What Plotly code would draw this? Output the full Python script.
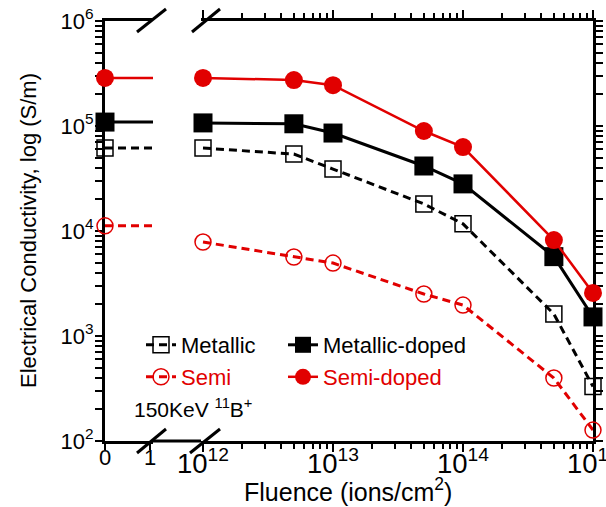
import plotly.graph_objects as go

# ---------------- data ----------------
fluence = [1e12, 5e12, 1e13, 5e13, 1e14, 5e14, 1e15]
zero_tick_vals = [0, 1]
zero_tick_text = ["0", "1"]

metallic_0 = 6.17e4
metallic = [6.17e4, 5.4e4, 3.89e4, 1.81e4, 1.17e4, 1.62e3, 330]

metallic_doped_0 = 1.09e5
metallic_doped = [1.07e5, 1.05e5, 8.57e4, 4.16e4, 2.81e4, 5.7e3, 1.52e3]

semi_0 = 1.12e4
semi = [7.85e3, 5.65e3, 4.95e3, 2.51e3, 1.97e3, 398, 127]

semi_doped_0 = 2.87e5
semi_doped = [2.87e5, 2.74e5, 2.45e5, 8.96e4, 6.3e4, 8.2e3, 2.57e3]

series_names = ["Metallic", "Metallic-doped", "Semi", "Semi-doped"]

# y ticks: decades (labelled) and 2..9 x each decade (unlabelled)
y_decades = [2, 3, 4, 5, 6]
y_tick_vals = []
y_tick_text = []
for e in y_decades:
    for m in range(1, 10):
        if e == y_decades[-1] and m > 1:
            break
        y_tick_vals.append(m * 10 ** e)
        y_tick_text.append(f"10<sup>{e}</sup>" if m == 1 else "")
x_minor = [m * 10 ** e for e in range(11, 15) for m in range(2, 10)]

# ---------------- style / layout ----------------
BLACK = "#000000"
RED = "#e10000"
FONT = "Liberation Sans, Arial, sans-serif"

W, H = 606, 507
L, R, T, B = 105, 13, 21, 66
PW = W - L - R
PH = H - T - B


def px(xp):
    return (xp - L) / PW


def py(yp):
    return (H - B - yp) / PH


LEFT_END = (153 - 105) / 45.0          # left (linear) segment range end
D1 = px(153)
D2 = px(201)
RIGHT_START = 12 - (203 - 201) / 130.0
Y_RANGE = [2, 6]
X2_RANGE = [RIGHT_START, 15]

styles = [
    dict(color=BLACK, dash="8px,5px", symbol="square-open", size=16, lw=3, mlw=1.5, legend="legend", lwid=97),
    dict(color=BLACK, dash="solid", symbol="square", size=19, lw=3, mlw=0, legend="legend", lwid=180),
    dict(color=RED, dash="8px,5px", symbol="circle-open", size=16, lw=3, mlw=1.5, legend="legend2", lwid=97),
    dict(color=RED, dash="solid", symbol="circle", size=18, lw=2.5, mlw=0, legend="legend2", lwid=180),
]
zero_vals = [metallic_0, metallic_doped_0, semi_0, semi_doped_0]
series_vals = [metallic, metallic_doped, semi, semi_doped]

fig = go.Figure()

# helper trace carrying the minor-tick overlay x axis (fully transparent)
fig.add_trace(go.Scatter(x=fluence, y=metallic, xaxis="x3", yaxis="y2", mode="markers",
                         marker=dict(opacity=0), showlegend=False, hoverinfo="skip"))

for name, st, v0, vals in zip(series_names, styles, zero_vals, series_vals):
    # left (zero-fluence) segment: line up to the axis break
    fig.add_trace(go.Scatter(
        x=[0, LEFT_END], y=[v0, v0], mode="lines",
        line=dict(color=st["color"], width=st["lw"], dash=st["dash"]),
        xaxis="x", yaxis="y", showlegend=False, cliponaxis=False, hoverinfo="skip"))
    fig.add_trace(go.Scatter(
        x=[0], y=[v0], mode="markers",
        marker=dict(symbol=st["symbol"], size=st["size"], color=st["color"],
                    line=dict(color=st["color"], width=st["mlw"])),
        xaxis="x", yaxis="y", showlegend=False, cliponaxis=False))
    # right (log fluence) segment
    fig.add_trace(go.Scatter(
        x=fluence, y=vals, mode="lines+markers", name=name,
        line=dict(color=st["color"], width=st["lw"], dash=st["dash"]),
        marker=dict(symbol=st["symbol"], size=st["size"], color=st["color"],
                    line=dict(color=st["color"], width=st["mlw"])),
        xaxis="x2", yaxis="y2", legend=st["legend"], legendwidth=st["lwid"],
        cliponaxis=False))

TICKFONT = dict(family=FONT, size=22, color=BLACK)
MINOR = dict(ticks="outside", ticklen=5, tickwidth=2, tickcolor=BLACK, dtick="D1", showgrid=False)
axis_common = dict(showline=True, linewidth=3, linecolor=BLACK, showgrid=False,
                   zeroline=False, ticks="outside", tickcolor=BLACK, tickwidth=2,
                   tickfont=TICKFONT, layer="below traces")
minor_axis = dict(showline=False, showgrid=False, zeroline=False, ticks="outside",
                  tickcolor=BLACK, tickwidth=2, ticklen=5, showticklabels=False,
                  tickmode="array", type="log", visible=True)

fig.update_layout(
    width=W, height=H,
    margin=dict(l=L, r=R, t=T, b=B, pad=0, autoexpand=False),
    paper_bgcolor="white", plot_bgcolor="white",
    font=dict(family=FONT, size=22, color=BLACK),
    xaxis=dict(domain=[0, D1], range=[0, LEFT_END], tickmode="array",
               tickvals=zero_tick_vals, ticktext=zero_tick_text, ticklen=6,
               mirror=True, anchor="y", ticklabelstandoff=-11, **axis_common),
    yaxis=dict(type="log", range=Y_RANGE, tickmode="array", tickvals=y_tick_vals,
               ticktext=y_tick_text, ticklen=7, anchor="x", mirror=False,
               ticklabelstandoff=-3, **axis_common),
    xaxis2=dict(domain=[D2, 1], type="log", range=X2_RANGE, dtick=1,
                exponentformat="power", ticklen=8, minor=MINOR,
                mirror="allticks", anchor="y2", ticklabeloverflow="allow",
                ticklabelstandoff=-11, **axis_common),
    yaxis2=dict(type="log", range=Y_RANGE, anchor="x2", side="right", tickmode="array",
                tickvals=y_tick_vals, ticklen=7, showticklabels=False, **axis_common),
    xaxis3=dict(overlaying="x2", range=X2_RANGE, anchor="y2", side="bottom",
                tickvals=x_minor, mirror="allticks", **minor_axis),
    legend=dict(orientation="h", x=px(141), xanchor="left", y=py(345), yanchor="middle",
                entrywidth=97, entrywidthmode="pixels", bgcolor="rgba(0,0,0,0)",
                font=dict(family=FONT, size=22, color=BLACK), tracegroupgap=0),
    legend2=dict(orientation="h", x=px(141), xanchor="left", y=py(377), yanchor="middle",
                 entrywidth=97, entrywidthmode="pixels", bgcolor="rgba(0,0,0,0)",
                 font=dict(family=FONT, size=22, color=RED), tracegroupgap=0),
    showlegend=True,
)

# axis titles and label
fig.add_annotation(text="Electrical Conductivity, log (S/m)", textangle=-90,
                   xref="paper", yref="paper", x=px(28), y=0.5, xanchor="center",
                   yanchor="middle", showarrow=False, font=dict(family=FONT, size=22, color=BLACK))
fig.add_annotation(text="Fluence (ions/cm<sup>2</sup>)", xref="paper", yref="paper",
                   x=px(348), y=py(490), xanchor="center", yanchor="middle", showarrow=False,
                   font=dict(family=FONT, size=25, color=BLACK))
fig.add_annotation(text="150KeV <sup>11</sup>B<sup>+</sup>", xref="paper", yref="paper",
                   x=px(132), y=py(408), xanchor="left", yanchor="middle", showarrow=False,
                   font=dict(family=FONT, size=21, color=BLACK))

# bottom axis line across the break, and break marks
fig.add_shape(type="line", xref="paper", yref="paper", x0=D1, x1=D2, y0=0, y1=0,
              line=dict(color=BLACK, width=3))
for (x0, y0, x1, y1) in [(137, 453, 166, 429), (190, 453, 220, 429),
                         (137, 32, 166, 9), (192, 32, 220, 9)]:
    fig.add_shape(type="line", xref="paper", yref="paper",
                  x0=px(x0), y0=py(y0), x1=px(x1), y1=py(y1),
                  line=dict(color=BLACK, width=3))

fig.write_html("out.html")
